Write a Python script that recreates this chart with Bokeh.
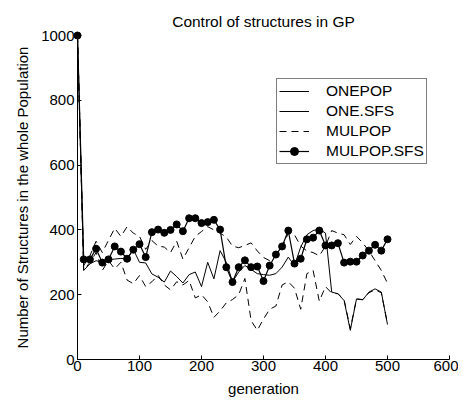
from bokeh.plotting import figure
from bokeh.models import Range1d, FixedTicker, Legend, LegendItem, ColumnDataSource
from bokeh.embed import file_html
from bokeh.resources import INLINE

generation = list(range(0, 501, 10))

onepop = [1000, 275, 295, 305, 300, 308, 310, 312, 310, 340,
          300, 298, 264, 254, 239, 273, 256, 236, 262, 270,
          225, 300, 249, 336, 300, 240, 270, 290, 278, 265,
          262, 260, 265, 285, 316, 290, 347, 385, 398, 403,
          390, 208, 203, 182, 90, 187, 184, 208, 218, 208,
          108]

one_sfs = [1000, 275, 300, 330, 275, 305, 280, 300, 245, 234,
           259, 225, 240, 260, 230, 215, 240, 230, 244, 190,
           200, 178, 130, 150, 175, 185, 200, 250, 120, 90,
           125, 155, 165, 230, 240, 220, 155, 265, 275, 180,
           225, 205, 203, 185, 95, 187, 185, 206, 215, 206,
           110]

mulpop = [1000, 290, 320, 365, 330, 368, 405, 380, 410, 390,
          380, 340, 367, 350, 347, 330, 365, 310, 345, 380,
          395, 410, 400, 390, 378, 350, 345, 352, 360, 335,
          315, 305, 325, 345, 390, 385, 350, 335, 330, 320,
          350, 398, 390, 385, 355, 380, 360, 335, 305, 275,
          235]

mulpop_sfs = [1000, 309, 309, 342, 299, 309, 349, 333, 311, 339,
              356, 316, 393, 401, 391, 400, 417, 396, 436, 436,
              421, 424, 431, 401, 285, 239, 285, 306, 285, 287,
              242, 290, 324, 349, 398, 296, 311, 371, 376, 398,
              352, 352, 359, 299, 302, 302, 321, 336, 354, 336,
              371]

x_ticks = [0, 100, 200, 300, 400, 500, 600]
y_ticks = [0, 200, 400, 600, 800, 1000]

FONT = "Liberation Sans"

p = figure(width=458, height=400, output_backend="svg", toolbar_location=None,
           x_range=Range1d(0, 600), y_range=Range1d(0, 1000),
           min_border_left=77, min_border_right=9, min_border_top=35, min_border_bottom=41,
           title="Control of structures in GP")
p.outline_line_color = None
p.background_fill_color = "white"
p.border_fill_color = "white"
p.xgrid.grid_line_color = None
p.ygrid.grid_line_color = None

p.title.align = "center"
p.title.text_font = FONT
p.title.text_font_size = "15.5px"
p.title.text_font_style = "normal"
p.title.text_color = "black"
p.title.standoff = 12

for ax, ticks in ((p.xaxis[0], x_ticks), (p.yaxis[0], y_ticks)):
    ax.ticker = FixedTicker(ticks=ticks)
    ax.minor_tick_line_color = None
    ax.major_tick_in = 4
    ax.major_tick_out = 0
    ax.axis_line_color = "black"
    ax.major_tick_line_color = "black"
    ax.major_label_text_font = FONT
    ax.major_label_text_font_size = "15px"
    ax.major_label_text_color = "black"
    ax.axis_label_text_font = FONT
    ax.axis_label_text_font_size = "15px"
    ax.axis_label_text_font_style = "normal"
    ax.axis_label_text_color = "black"

p.xaxis.axis_label = "generation"
p.yaxis.axis_label = "Number of Structures in the whole Population"
p.xaxis.major_label_standoff = 1
p.xaxis.axis_label_standoff = 6
p.yaxis.major_label_standoff = 3
p.yaxis.axis_label_standoff = 7

src = ColumnDataSource(dict(g=generation, a=onepop, b=one_sfs, c=mulpop, d=mulpop_sfs))

r_a = p.line("g", "a", source=src, line_color="black", line_width=1)
r_b = p.line("g", "b", source=src, line_color="black", line_width=1, line_dash="7 5")
r_c = p.line("g", "c", source=src, line_color="black", line_width=1, line_dash="7 5")
r_d = p.line("g", "d", source=src, line_color="black", line_width=1.2)
r_dm = p.scatter("g", "d", source=src, marker="circle", size=7,
                 fill_color="black", line_color="black", level="overlay")

legend = Legend(items=[
    LegendItem(label="ONEPOP", renderers=[r_a]),
    LegendItem(label="ONE.SFS", renderers=[r_a]),
    LegendItem(label="MULPOP", renderers=[r_c]),
    LegendItem(label="MULPOP.SFS", renderers=[r_d, r_dm]),
], location=(199, 195))
legend.padding = 2
legend.spacing = 0
legend.margin = 0
legend.glyph_width = 30
legend.glyph_height = 20
legend.label_height = 20
legend.label_standoff = 17
legend.label_text_font = FONT
legend.label_text_font_size = "15.5px"
legend.label_text_color = "black"
legend.border_line_color = "black"
legend.border_line_width = 1
legend.background_fill_alpha = 1
p.add_layout(legend, "center")

open("out.html", "w").write(file_html(p, INLINE))
